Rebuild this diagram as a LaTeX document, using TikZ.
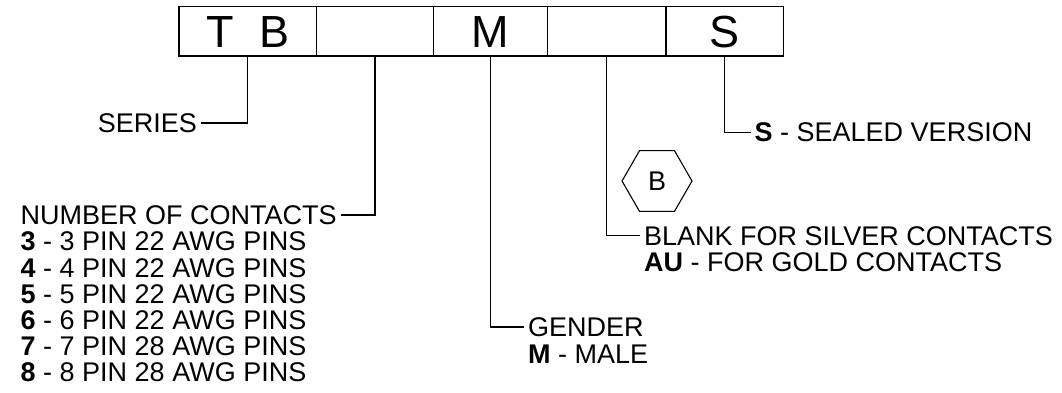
\documentclass[tikz,border=0pt]{standalone}
\usepackage{fontspec}
\setmainfont{Liberation Sans}
\usetikzlibrary{shapes.geometric}
\begin{document}
\begin{tikzpicture}[x=1pt,y=-1pt,
  cell/.style={draw,line width=1.5pt,rectangle,inner sep=0pt,minimum height=49.3pt,
     font=\fontsize{45}{45}\selectfont,text height=32.2pt,text depth=0pt},
  lab/.style={inner sep=0pt,font=\fontsize{27}{26}\selectfont,text height=19.3pt,text depth=0pt},
  conn/.style={line width=1.2pt,shorten >=4pt},
  hexa/.style={draw,line width=1.1pt,regular polygon,regular polygon sides=6,minimum size=70pt,
     inner sep=0pt,font=\fontsize{27}{26}\selectfont}]
\useasboundingbox (0,0) rectangle (1062,392);
% part-number boxes
\node[cell,minimum width=137.7pt] (b1) at (247.85,31.35) {T\ \ B};
\node[cell,minimum width=116.6pt] (b2) at (375,31.35) {};
\node[cell,minimum width=114.4pt] (b3) at (490.5,31.35) {M};
\node[cell,minimum width=118.3pt] (b4) at (606.85,31.35) {};
\node[cell,minimum width=117.3pt] (b5) at (724.65,31.35) {S};
% labels
\node[lab,anchor=east] (series) at (197,123) {SERIES};
\node[lab,anchor=west] (num) at (20.5,215) {NUMBER OF CONTACTS};
\node[lab,anchor=west] (c3) at (20.5,241.3) {\bfseries 3\mdseries{} - 3 PIN 22 AWG PINS};
\node[lab,anchor=west] (c4) at (20.5,267.5) {\bfseries 4\mdseries{} - 4 PIN 22 AWG PINS};
\node[lab,anchor=west] (c5) at (20.5,293.7) {\bfseries 5\mdseries{} - 5 PIN 22 AWG PINS};
\node[lab,anchor=west] (c6) at (20.5,319.9) {\bfseries 6\mdseries{} - 6 PIN 22 AWG PINS};
\node[lab,anchor=west] (c7) at (20.5,346.1) {\bfseries 7\mdseries{} - 7 PIN 28 AWG PINS};
\node[lab,anchor=west] (c8) at (20.5,372.3) {\bfseries 8\mdseries{} - 8 PIN 28 AWG PINS};
\node[lab,anchor=west] (gender) at (528,327) {GENDER};
\node[lab,anchor=west] (male) at (528,353.5) {\bfseries M\mdseries{} - MALE};
\node[lab,anchor=west] (blank) at (644,235.5) {BLANK FOR SILVER CONTACTS};
\node[lab,anchor=west] (gold) at (644,261.5) {\bfseries AU\mdseries{} - FOR GOLD CONTACTS};
\node[lab,anchor=west] (sealed) at (754.5,132.3) {\bfseries S\mdseries{} - SEALED VERSION};
\node[hexa] (hex) at (657,181) {B};
% connectors
\draw[conn] (b1.south) |- (series.east);
\draw[conn] (b2.south) |- (num.east);
\draw[conn] (b3.south) |- (gender.west);
\draw[conn] (b4.south) |- (blank.west);
\draw[conn] (b5.south) |- (sealed.west);
\end{tikzpicture}
\end{document}
